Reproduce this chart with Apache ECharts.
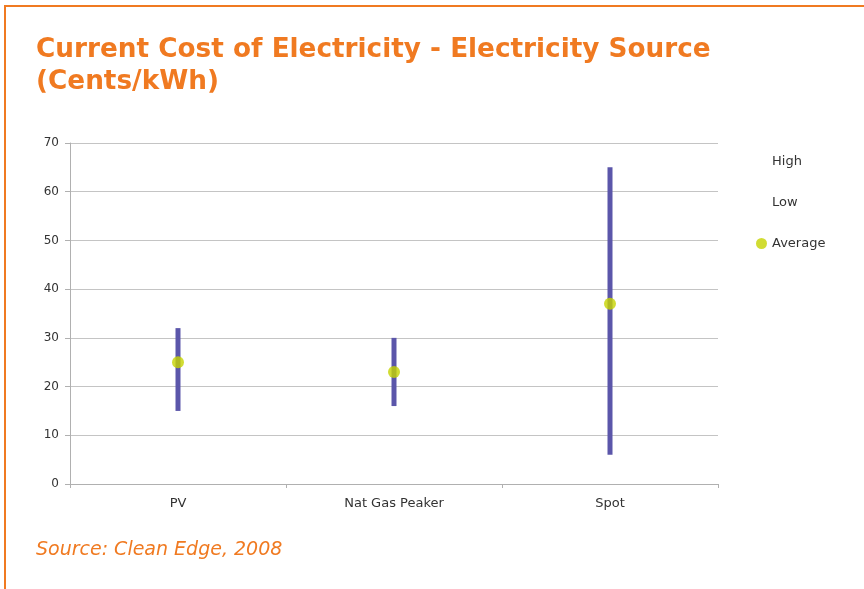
<!DOCTYPE html>
<html>
<head>
<meta charset="utf-8">
<script src="https://cdn.jsdelivr.net/npm/echarts@6/dist/echarts.min.js"></script>
<style>
  html, body { margin: 0; padding: 0; background: #ffffff; }
  #chart { width: 864px; height: 589px; }
</style>
</head>
<body>
<div id="chart"></div>
<script>
// Electricity cost ranges by source, cents per kWh
const categories = ['PV', 'Nat Gas Peaker', 'Spot'];
const highValues = [32, 30, 65];
const lowValues = [15, 16, 6];
const averageValues = [25, 23, 37];
const yTicks = [0, 10, 20, 30, 40, 50, 60, 70];

const orange = '#f07a21';
const rangeColor = '#5b56aa';
const avgColor = '#c6d300';

const chart = echarts.init(document.getElementById('chart'));

const rangeData = categories.map((c, i) => [i, lowValues[i], highValues[i]]);

chart.setOption({
  animation: false,
  backgroundColor: '#ffffff',
  title: {
    text: 'Current Cost of Electricity - Electricity Source\n(Cents/kWh)',
    left: 31,
    top: 29,
    textStyle: {
      color: orange,
      fontFamily: 'DejaVu Sans',
      fontWeight: 'bold',
      fontSize: 26.3,
      lineHeight: 32
    }
  },
  legend: {
    orient: 'vertical',
    left: 751,
    top: 150,
    itemGap: 28,
    itemWidth: 11,
    itemHeight: 11,
    textStyle: { color: '#333', fontFamily: 'DejaVu Sans', fontSize: 13 },
    data: [
      { name: 'High', icon: 'none' },
      { name: 'Low', icon: 'none' },
      { name: 'Average', icon: 'circle' }
    ]
  },
  grid: { left: 70, right: 146, top: 143, bottom: 105 },
  xAxis: {
    type: 'category',
    data: categories,
    axisLine: { lineStyle: { color: '#b0b0b0', width: 1 } },
    axisTick: { show: true, length: 4, lineStyle: { color: '#b0b0b0' } },
    axisLabel: { color: '#333', fontFamily: 'DejaVu Sans', fontSize: 13, margin: 13 }
  },
  yAxis: {
    type: 'value',
    min: yTicks[0],
    max: yTicks[yTicks.length - 1],
    interval: 10,
    axisLine: { show: true, lineStyle: { color: '#b0b0b0', width: 1 } },
    axisTick: { show: true, length: 5, lineStyle: { color: '#b0b0b0' } },
    axisLabel: { color: '#333', fontFamily: 'DejaVu Sans', fontSize: 12, margin: 11 },
    splitLine: { lineStyle: { color: '#c4c4c4', width: 1 } }
  },
  series: [
    {
      name: 'High',
      type: 'custom',
      z: 2,
      encode: { x: 0, y: [1, 2] },
      renderItem: function (params, api) {
        const lo = api.coord([api.value(0), api.value(1)]);
        const hi = api.coord([api.value(0), api.value(2)]);
        return {
          type: 'line',
          shape: { x1: lo[0], y1: lo[1], x2: hi[0], y2: hi[1] },
          style: { stroke: rangeColor, lineWidth: 5 }
        };
      },
      data: rangeData
    },
    {
      name: 'Low',
      type: 'line',
      data: lowValues,
      symbol: 'none',
      lineStyle: { opacity: 0 },
      silent: true
    },
    {
      name: 'Average',
      type: 'scatter',
      z: 3,
      data: averageValues,
      symbol: 'circle',
      symbolSize: 12,
      itemStyle: { color: avgColor }
    }
  ],
  graphic: [
    { type: 'rect', shape: { x: 4, y: 5, width: 860, height: 2 }, style: { fill: orange } },
    { type: 'rect', shape: { x: 4, y: 5, width: 2, height: 584 }, style: { fill: orange } },
    {
      type: 'text',
      left: 36,
      top: 541,
      style: {
        text: 'Source: Clean Edge, 2008',
        fill: orange,
        font: 'italic 19px "DejaVu Sans"'
      }
    }
  ]
});
</script>
</body>
</html>
